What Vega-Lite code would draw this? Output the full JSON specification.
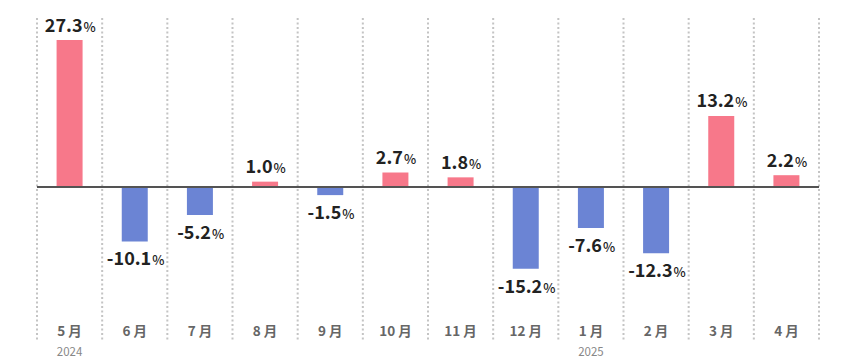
{
  "$schema": "https://vega.github.io/schema/vega-lite/v6.json",
  "width": 782,
  "height": 323,
  "autosize": {"type": "none"},
  "padding": {"left": 37, "top": 18, "right": 41, "bottom": 19},
  "background": "#ffffff",
  "config": {
    "view": {"stroke": null},
    "font": "Noto Sans CJK JP",
    "text": {"font": "Noto Sans CJK JP"}
  },
  "data": {
    "values": [
      {"month": "5 月", "v": 27.3, "year": "2024"},
      {"month": "6 月", "v": -10.1, "year": ""},
      {"month": "7 月", "v": -5.2, "year": ""},
      {"month": "8 月", "v": 1.0, "year": ""},
      {"month": "9 月", "v": -1.5, "year": ""},
      {"month": "10 月", "v": 2.7, "year": ""},
      {"month": "11 月", "v": 1.8, "year": ""},
      {"month": "12 月", "v": -15.2, "year": ""},
      {"month": "1 月", "v": -7.6, "year": "2025"},
      {"month": "2 月", "v": -12.3, "year": ""},
      {"month": "3 月", "v": 13.2, "year": ""},
      {"month": "4 月", "v": 2.2, "year": ""}
    ]
  },
  "transform": [
    {"calculate": "(datum.v < 0 ? '-' : '') + format(abs(datum.v), '.1f')", "as": "lab"},
    {"calculate": "32.58 + (11*(length(datum.lab)-1-(datum.v<0?1:0)) + 5 + (datum.v<0?7:0))/2 - 6", "as": "off"},
    {"calculate": "datum.off + 1", "as": "poff"}
  ],
  "encoding": {
    "x": {
      "field": "month",
      "type": "nominal",
      "sort": null,
      "scale": {"paddingInner": 0, "paddingOuter": 0},
      "axis": {
        "title": null,
        "domain": false,
        "ticks": false,
        "tickSize": 0,
        "grid": false,
        "labelAngle": 0,
        "labelBaseline": "middle",
        "labelPadding": -9.5,
        "labelFont": "Noto Sans CJK JP",
        "labelFontSize": 13.5,
        "labelFontWeight": "bold",
        "labelColor": "#666666"
      }
    }
  },
  "layer": [
    {
      "mark": {"type": "rule", "color": "#c4c4c4", "strokeWidth": 2, "strokeDash": [2, 2.5]},
      "encoding": {
        "x": {"field": "month", "type": "nominal", "sort": null, "bandPosition": 0}
      }
    },
    {
      "transform": [{"filter": "datum.month == '4 月'"}],
      "mark": {"type": "rule", "color": "#c4c4c4", "strokeWidth": 2, "strokeDash": [2, 2.5]},
      "encoding": {
        "x": {"field": "month", "type": "nominal", "sort": null, "bandPosition": 1}
      }
    },
    {
      "mark": {"type": "bar", "size": 26},
      "encoding": {
        "y": {
          "field": "v",
          "type": "quantitative",
          "scale": {"domain": [-28.6, 31.4], "nice": false, "zero": true},
          "axis": null
        },
        "color": {
          "condition": {"test": "datum.v >= 0", "value": "#F7788A"},
          "value": "#6B84D4"
        }
      }
    },
    {
      "mark": {"type": "rule", "color": "#555555", "strokeWidth": 1},
      "encoding": {"y": {"datum": 0, "type": "quantitative"}, "x": {}}
    },
    {
      "transform": [{"filter": "datum.v >= 0"}],
      "mark": {"type": "text", "align": "right", "baseline": "alphabetic", "dy": -8.5, "fontSize": 18, "fontWeight": "bold", "color": "#222222"},
      "encoding": {
        "y": {"field": "v", "type": "quantitative"},
        "text": {"field": "lab"},
        "xOffset": {"field": "off", "type": "quantitative", "scale": null}
      }
    },
    {
      "transform": [{"filter": "datum.v >= 0"}],
      "mark": {"type": "text", "align": "left", "baseline": "alphabetic", "dy": -8.5, "fontSize": 13, "fontWeight": 500, "color": "#222222"},
      "encoding": {
        "y": {"field": "v", "type": "quantitative"},
        "text": {"value": "%"},
        "xOffset": {"field": "poff", "type": "quantitative", "scale": null}
      }
    },
    {
      "transform": [{"filter": "datum.v < 0"}],
      "mark": {"type": "text", "align": "right", "baseline": "alphabetic", "dy": 24, "fontSize": 18, "fontWeight": "bold", "color": "#222222"},
      "encoding": {
        "y": {"field": "v", "type": "quantitative"},
        "text": {"field": "lab"},
        "xOffset": {"field": "off", "type": "quantitative", "scale": null}
      }
    },
    {
      "transform": [{"filter": "datum.v < 0"}],
      "mark": {"type": "text", "align": "left", "baseline": "alphabetic", "dy": 24, "fontSize": 13, "fontWeight": 500, "color": "#222222"},
      "encoding": {
        "y": {"field": "v", "type": "quantitative"},
        "text": {"value": "%"},
        "xOffset": {"field": "poff", "type": "quantitative", "scale": null}
      }
    },
    {
      "transform": [{"filter": "datum.year != ''"}],
      "mark": {"type": "text", "align": "center", "baseline": "middle", "dy": 12, "fontSize": 11.5, "color": "#888888"},
      "encoding": {
        "y": {"datum": -28.6, "type": "quantitative"},
        "text": {"field": "year"}
      }
    }
  ]
}
